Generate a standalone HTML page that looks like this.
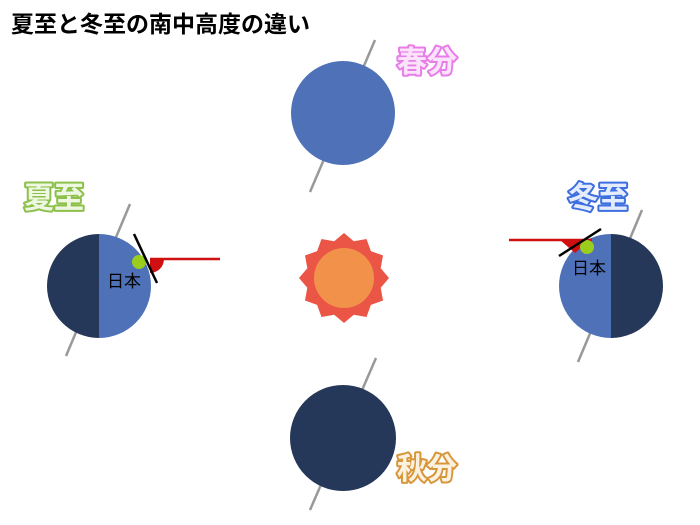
<!DOCTYPE html>
<html><head><meta charset="utf-8"><style>
html,body{margin:0;padding:0;background:#fff;width:700px;height:525px;overflow:hidden}
svg text{font-family:"Liberation Sans","Noto Sans CJK JP",sans-serif}
</style></head><body>
<svg width="700" height="525" viewBox="0 0 700 525" xmlns="http://www.w3.org/2000/svg">
<text x="11" y="32" font-size="23" font-weight="bold" fill="#000">夏至と冬至の南中高度の違い</text>

<!-- spring -->
<line x1="375" y1="40" x2="310" y2="192" stroke="#999" stroke-width="2.5"/>
<circle cx="343" cy="113" r="52" fill="#4e71b8"/>
<text x="397" y="72" font-size="30" font-weight="bold" fill="#fbe4fb" stroke="#e87ce8" stroke-width="4" paint-order="stroke" stroke-linejoin="round">春分</text>

<!-- summer -->
<line x1="130" y1="204" x2="66" y2="356" stroke="#999" stroke-width="2.5"/>
<path d="M99 234 A52 52 0 0 0 99 338 Z" fill="#263859"/>
<path d="M99 234 A52 52 0 0 1 99 338 Z" fill="#4e71b8"/>
<path d="M150 259 L164 259 A14 14 0 0 1 150 273 Z" fill="#d01010"/>
<line x1="150" y1="259" x2="220" y2="259" stroke="#d01010" stroke-width="2.5"/>
<circle cx="139" cy="262" r="7" fill="#9acd1e"/>
<line x1="134" y1="234" x2="157" y2="283" stroke="#000" stroke-width="2.5"/>
<text x="107" y="287" font-size="17" fill="#000">日本</text>
<text x="24" y="208" font-size="30" font-weight="bold" fill="#eef7e2" stroke="#8cc04a" stroke-width="4" paint-order="stroke" stroke-linejoin="round">夏至</text>

<!-- winter -->
<line x1="642" y1="210" x2="578" y2="362" stroke="#999" stroke-width="2.5"/>
<path d="M611 234 A52 52 0 0 0 611 338 Z" fill="#4e71b8"/>
<path d="M611 234 A52 52 0 0 1 611 338 Z" fill="#263859"/>
<path d="M560 240 L590 240 L575 253 Z" fill="#d01010"/>
<line x1="509" y1="240" x2="592" y2="240" stroke="#d01010" stroke-width="2.5"/>
<circle cx="587" cy="247" r="7" fill="#9acd1e"/>
<line x1="559" y1="256" x2="601" y2="229" stroke="#000" stroke-width="2.5"/>
<text x="572" y="274" font-size="17" fill="#000">日本</text>
<text x="568" y="208" font-size="30" font-weight="bold" fill="#e4ecfd" stroke="#3d6fe0" stroke-width="4" paint-order="stroke" stroke-linejoin="round">冬至</text>

<!-- autumn -->
<line x1="376" y1="358" x2="310" y2="510" stroke="#999" stroke-width="2.5"/>
<circle cx="343" cy="438" r="53" fill="#263859"/>
<text x="397" y="479" font-size="30" font-weight="bold" fill="#fbf1e0" stroke="#d8963a" stroke-width="4" paint-order="stroke" stroke-linejoin="round">秋分</text>

<!-- sun -->
<polygon fill="#ea5546" points="389,278 380.7,287.8 383,300.5 370.9,304.9 366.5,317 353.8,314.7 344,323 334.2,314.7 321.5,317 317.1,304.9 305,300.5 307.3,287.8 299,278 307.3,268.2 305,255.5 317.1,251.1 321.5,239 334.2,241.3 344,233 353.8,241.3 366.5,239 370.9,251.1 383,255.5 380.7,268.2"/>
<circle cx="344" cy="278" r="30" fill="#f2924a"/>
</svg>
</body></html>
